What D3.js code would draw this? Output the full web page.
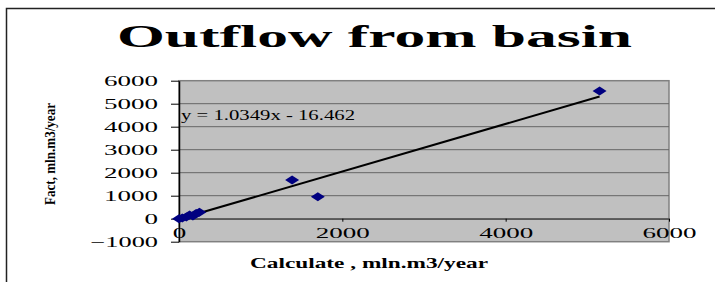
<!DOCTYPE html>
<html>
<head>
<meta charset="utf-8">
<script src="https://cdn.jsdelivr.net/npm/d3@7"></script>
<style>
  body { margin: 0; background: #fff; }
  text { font-family: "Liberation Serif", "Times New Roman", serif; }
</style>
</head>
<body>
<script>
  // data
  const calculated = [0, 40, 90, 130, 170, 210, 250, 1385, 1700, 5150];
  const actual     = [0, 30, 70, 160, 120, 230, 280, 1680, 950, 5550];
  const yTicks = [-1000, 0, 1000, 2000, 3000, 4000, 5000, 6000];
  const xTicks = [0, 2000, 4000, 6000];
  const slope = 1.0349, intercept = -16.462;

  const W = 715, H = 282;
  const svg = d3.select('body').append('svg')
    .attr('width', W).attr('height', H);

  // chart border (right and bottom are cut off)
  svg.append('path')
    .attr('d', 'M6.5,282V8.5H715')
    .attr('fill', 'none').attr('stroke', '#222').attr('stroke-width', 1.5);

  const x = d3.scaleLinear().domain([0, 6000]).range([179, 669]);
  const y = d3.scaleLinear().domain([-1000, 6000]).range([241.7, 80.7]);
  const fmt = d3.format('d');

  // plot area
  svg.append('rect')
    .attr('x', x(0)).attr('y', y(6000))
    .attr('width', x(6000) - x(0)).attr('height', y(-1000) - y(6000))
    .attr('fill', '#c0c0c0').attr('stroke', '#808080').attr('stroke-width', 1.5);

  // gridlines
  svg.append('g').selectAll('line')
    .data(yTicks.filter(d => d > -1000 && d < 6000))
    .join('line')
      .attr('x1', x(0)).attr('x2', x(6000))
      .attr('y1', d => y(d)).attr('y2', d => y(d))
      .attr('stroke', '#666').attr('stroke-width', 1);

  // y axis
  const yAxis = svg.append('g')
    .attr('transform', `translate(${x(0)},0)`)
    .call(d3.axisLeft(y).tickValues(yTicks).tickFormat(fmt)
      .tickSize(8).tickPadding(13).tickSizeOuter(0));
  yAxis.select('.domain').attr('stroke', '#000').attr('stroke-width', 1.5);
  yAxis.selectAll('text')
    .attr('font-size', 14).attr('fill', '#000')
    .attr('font-family', '"Liberation Serif", serif')
    .attr('textLength', d => fmt(d).length * 13.5)
    .attr('lengthAdjust', 'spacingAndGlyphs');

  // x axis at y = 0
  const xAxis = svg.append('g')
    .attr('transform', `translate(0,${y(0)})`)
    .call(d3.axisBottom(x).tickValues(xTicks).tickFormat(fmt).tickSize(3).tickSizeOuter(0));
  xAxis.select('.domain').attr('stroke', '#333').attr('stroke-width', 1);
  xAxis.selectAll('.tick line').attr('stroke', '#000');
  xAxis.selectAll('text')
    .attr('y', 9).attr('font-size', 14).attr('fill', '#000')
    .attr('font-family', '"Liberation Serif", serif')
    .attr('textLength', d => fmt(d).length * 13.5)
    .attr('lengthAdjust', 'spacingAndGlyphs');

  // trendline
  const xMin = d3.min(calculated), xMax = d3.max(calculated);
  svg.append('line')
    .attr('x1', x(xMin)).attr('y1', y(slope * xMin + intercept))
    .attr('x2', x(xMax)).attr('y2', y(slope * xMax + intercept))
    .attr('stroke', '#000').attr('stroke-width', 2);

  // points
  svg.append('g').selectAll('path')
    .data(d3.zip(calculated, actual))
    .join('path')
      .attr('transform', d => `translate(${x(d[0])},${y(d[1])})`)
      .attr('d', 'M-7,0L0,-4.5L7,0L0,4.5Z')
      .attr('fill', '#000080');

  // equation label
  svg.append('text')
    .attr('x', 181).attr('y', 120)
    .attr('font-size', 14)
    .attr('textLength', 174).attr('lengthAdjust', 'spacingAndGlyphs')
    .text('y = 1.0349x - 16.462');

  // title
  svg.append('text')
    .attr('x', 117).attr('y', 47)
    .attr('font-size', 32).attr('font-weight', 'bold')
    .attr('textLength', 515).attr('lengthAdjust', 'spacingAndGlyphs')
    .text('Outflow from basin');

  // x axis title
  svg.append('text')
    .attr('x', 250).attr('y', 268)
    .attr('font-size', 15).attr('font-weight', 'bold')
    .attr('textLength', 238).attr('lengthAdjust', 'spacingAndGlyphs')
    .text('Calculate , mln.m3/year');

  // y axis title
  svg.append('text')
    .attr('transform', 'translate(55,205) rotate(-90)')
    .attr('font-size', 15).attr('font-weight', 'bold')
    .attr('textLength', 102).attr('lengthAdjust', 'spacingAndGlyphs')
    .text('Fact, mln.m3/year');
</script>
</body>
</html>
